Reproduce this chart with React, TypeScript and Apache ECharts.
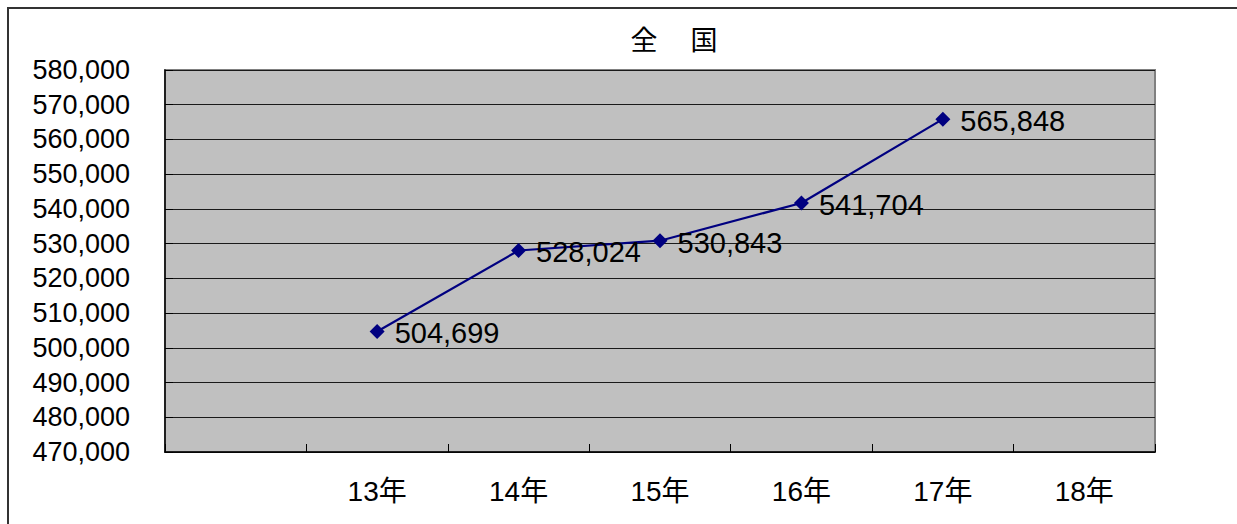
import React, { useEffect, useRef } from "react";
import * as echarts from "echarts";

const title = "全　 国";
const categories = ["", "13年", "14年", "15年", "16年", "17年", "18年"];
const values: (number | null)[] = [null, 504699, 528024, 530843, 541704, 565848, null];
const yMin = 470000;
const yMax = 580000;
const yInterval = 10000;

const FONT = "'Liberation Sans', Arial, 'Noto Sans CJK JP', sans-serif";

export default function App() {
  const ref = useRef<HTMLDivElement>(null);
  useEffect(() => {
    if (!ref.current) return;
    const chart = echarts.init(ref.current, undefined, { renderer: "svg" });
    chart.setOption({
      animation: false,
      backgroundColor: "#ffffff",
      textStyle: { fontFamily: FONT },
      title: {
        text: title,
        left: 669,
        textAlign: "center",
        top: 20,
        textStyle: { fontFamily: "'Noto Sans CJK JP', sans-serif", fontSize: 27, fontWeight: "normal", color: "#000" },
      },
      graphic: [
        {
          type: "rect",
          shape: { x: 8, y: 8, width: 1400, height: 700 },
          style: { fill: "none", stroke: "#333", lineWidth: 2 },
          silent: true,
        },
      ],
      grid: {
        left: 165,
        top: 70,
        width: 990,
        height: 382,
        show: true,
        backgroundColor: "#C0C0C0",
        borderColor: "#808080",
        borderWidth: 2,
      },
      xAxis: {
        type: "category",
        data: categories,
        boundaryGap: true,
        axisLine: { show: true, lineStyle: { color: "#000", width: 1.5 } },
        axisTick: { show: true, inside: true, length: 8, alignWithLabel: false, lineStyle: { color: "#000" } },
        axisLabel: { fontSize: 28, color: "#000", margin: 25, fontFamily: FONT, interval: 0 },
        splitLine: { show: false },
      },
      yAxis: {
        type: "value",
        min: yMin,
        max: yMax,
        interval: yInterval,
        axisLine: { show: true, lineStyle: { color: "#000", width: 1.5 } },
        axisTick: { show: true, inside: true, length: 8, lineStyle: { color: "#000" } },
        axisLabel: {
          fontSize: 27,
          color: "#000",
          margin: 35,
          fontFamily: FONT,
          formatter: (v: number) => v.toLocaleString("en-US"),
        },
        splitLine: { show: true, lineStyle: { color: "#1a1a1a", width: 1 } },
      },
      series: [
        {
          type: "line",
          data: values,
          connectNulls: false,
          symbol: "diamond",
          symbolSize: 15,
          itemStyle: { color: "#000080" },
          lineStyle: { color: "#000080", width: 2.2 },
          label: {
            show: true,
            position: "right",
            distance: 10,
            offset: [0, 2],
            fontSize: 29,
            color: "#000",
            fontFamily: FONT,
            formatter: (p: any) => (p.value == null ? "" : Number(p.value).toLocaleString("en-US")),
          },
        },
      ],
    });
    return () => chart.dispose();
  }, []);
  return <div ref={ref} style={{ position: "absolute", left: 0, top: 0, width: 1237, height: 524 }} />;
}
